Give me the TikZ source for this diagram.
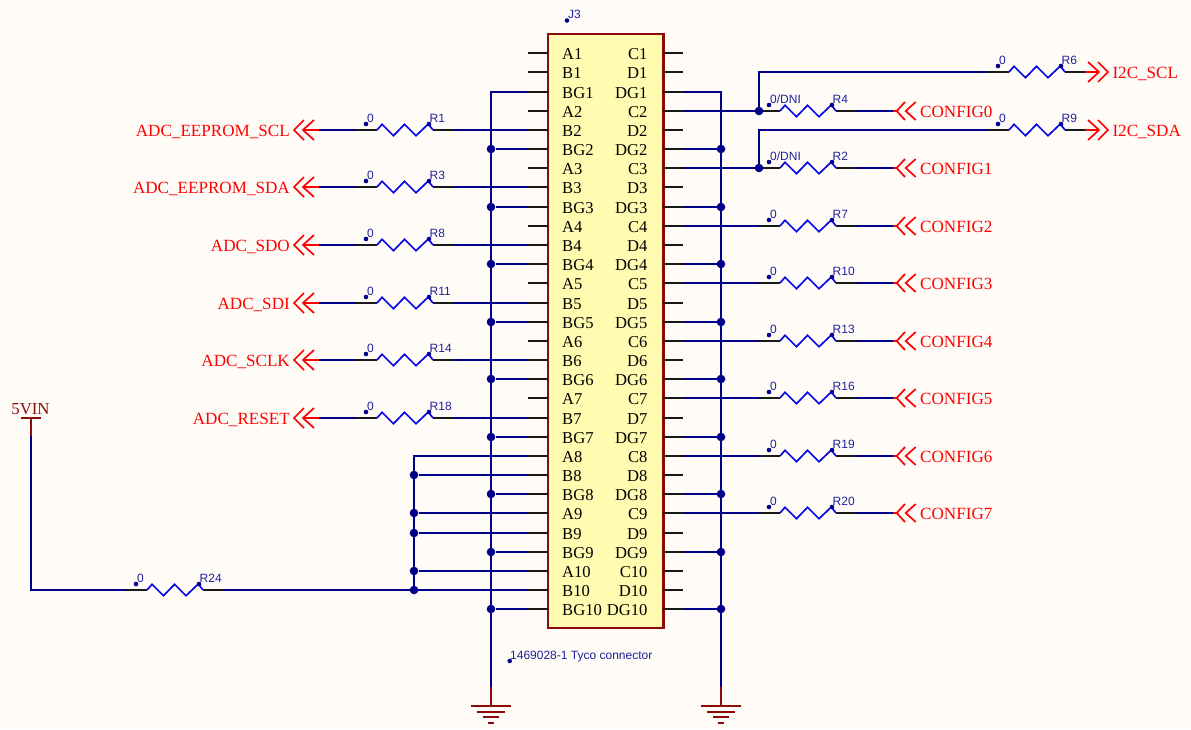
\documentclass[tikz,border=0pt]{standalone}
\usepackage{fontspec}
\setmainfont{Liberation Serif}
\setsansfont{Liberation Sans}
\definecolor{sheet}{HTML}{FFFCF8}
\definecolor{bodyfill}{HTML}{FFFBB0}
\definecolor{darkred}{HTML}{8B0A0A}
\definecolor{wirenavy}{HTML}{00008B}
\definecolor{zigblue}{HTML}{0A0AE6}
\definecolor{textnavy}{HTML}{20209A}
\tikzset{
        wire/.style={draw=wirenavy, line width=2pt},
        pinline/.style={draw=black!90, line width=2pt},
        zigline/.style={draw=zigblue, line width=1.7pt},
        pwrline/.style={draw=darkred, line width=2pt},
        portline/.style={draw=red, line width=1.7pt},
        junction/.style={circle, fill=wirenavy, inner sep=0pt, minimum size=8.6pt},
        pinlabel/.style={inner sep=0pt, yshift=-6.2pt, font=\fontsize{16.6}{17}\selectfont},
        sigleft/.style={inner sep=0pt, text=red, anchor=base east, yshift=-6.2pt, font=\fontsize{17.1}{18}\selectfont},
        sigright/.style={inner sep=0pt, text=red, anchor=base west, yshift=-6.2pt, font=\fontsize{17.1}{18}\selectfont},
        partlabel/.style={inner sep=0pt, text=textnavy, anchor=base west, font=\sffamily\fontsize{12}{13}\selectfont},
        pics/resistor/.style 2 args={code={
                \coordinate (-a) at (0,0);
                \coordinate (-b) at (97,0);
                \draw[pinline] (-a) -- (21,0);
                \draw[pinline] (77,0) -- (-b);
                \draw[zigline] (21,0) -- (26,-5.7) -- (37.5,5.7) -- (48.5,-5.7) -- (60,5.7) -- (72.3,-6) -- (77,0);
                \fill[wirenavy] (10,-6) circle (2.3pt);
                \fill[wirenavy] (73,-6) circle (2.3pt);
                \node[partlabel] (-val) at (11,-8) {#1};
                \node[partlabel] (-ref) at (73.5,-8) {#2};
        }},
        pics/portin/.style={code={
                \draw[portline] (0,0) -- (4,0);
                \draw[portline] (12,-9) -- (3.7,0) -- (12,9);
                \draw[portline] (22.7,-9) -- (12.7,0) -- (22.7,9);
        }},
        pics/portout/.style={code={
                \draw[portline] (0,0) -- (#1,0);
                \draw[portline] (#1-11,-10) -- (#1,0) -- (#1-11,10);
                \draw[portline] (#1-1,-10) -- (#1+9,0) -- (#1-1,10);
        }},
        pics/groundsym/.style={code={
                \draw[pwrline] (0,0) -- (0,19);
                \draw[pwrline] (-20,19) -- (20,19);
                \draw[pwrline] (-14,25) -- (14,25);
                \draw[pwrline] (-8,30) -- (8,30);
                \draw[pwrline] (-3,36) -- (3,36);
        }},
}
\begin{document}
\begin{tikzpicture}[x=1pt, y=-1pt]
        \fill[sheet] (0,0) rectangle (1191,729);
        \useasboundingbox (0,0) rectangle (1191,729);

        \draw[darkred, line width=2.4pt, fill=bodyfill] (548,34) rectangle (663.5,628);

        \foreach \nameL/\nameR [count=\rowno from 0] in {A1/C1,B1/D1,BG1/DG1,A2/C2,B2/D2,BG2/DG2,A3/C3,B3/D3,BG3/DG3,
                A4/C4,B4/D4,BG4/DG4,A5/C5,B5/D5,BG5/DG5,A6/C6,B6/D6,BG6/DG6,A7/C7,B7/D7,BG7/DG7,
                A8/C8,B8/D8,BG8/DG8,A9/C9,B9/D9,BG9/DG9,A10/C10,B10/D10,BG10/DG10}{
                \pgfmathsetmacro{\rowy}{round(53.3+19.17*\rowno)}
                \coordinate (pin\nameL) at (528,\rowy);
                \coordinate (pin\nameR) at (683,\rowy);
                \draw[pinline] (pin\nameL) -- (548,\rowy);
                \draw[pinline] (663,\rowy) -- (pin\nameR);
                \node[pinlabel, anchor=base west] (txt\nameL) at (562,\rowy) {\nameL};
                \node[pinlabel, anchor=base east] (txt\nameR) at (647.7,\rowy) {\nameR};
        }

        \fill[wirenavy] (567,20.5) circle (2.3pt);
        \node[partlabel] (partref) at (568,18) {J3};
        \fill[wirenavy] (509.7,661) circle (2.3pt);
        \node[partlabel] (partname) at (510,659.3) {1469028-1 Tyco connector};

        \coordinate (gndL) at (491,687);
        \coordinate (gndR) at (721,687);
        \draw[wire] (pinBG1) -| (gndL);
        \draw[wire] (pinDG1) -| (gndR);
        \foreach \rowno in {2,...,10}{
                \node[junction] (jBG\rowno) at (pinBG\rowno -| gndL) {};
                \node[junction] (jDG\rowno) at (pinDG\rowno -| gndR) {};
                \draw[wire] (pinBG\rowno) -- (jBG\rowno);
                \draw[wire] (pinDG\rowno) -- (jDG\rowno);
        }
        \pic at (gndL) {groundsym};
        \pic at (gndR) {groundsym};

        \foreach \refname/\pin/\signal in {R1/B2/ADC\_EEPROM\_SCL,R3/B3/ADC\_EEPROM\_SDA,R8/B4/ADC\_SDO,
                R11/B5/ADC\_SDI,R14/B6/ADC\_SCLK,R18/B7/ADC\_RESET}{
                \pic (\refname) at (pin\pin -| 356,0) {resistor={0}{\refname}};
                \coordinate (port\refname) at (pin\pin -| 319,0);
                \draw[wire] (\refname-b) -- (pin\pin);
                \draw[wire] (\refname-a) -- (port\refname);
                \pic[xscale=-1] at (port\refname) {portout=16};
                \node[sigleft] (sig\refname) at (pin\pin -| 290,0) {\signal};
        }

        \foreach \refname/\pin/\val/\signal in {R4/C2/{0/DNI}/CONFIG0,R2/C3/{0/DNI}/CONFIG1,R7/C4/0/CONFIG2,R10/C5/0/CONFIG3,
                R13/C6/0/CONFIG4,R16/C7/0/CONFIG5,R19/C8/0/CONFIG6,R20/C9/0/CONFIG7}{
                \pic (\refname) at (pin\pin -| 759,0) {resistor={\val}{\refname}};
                \coordinate (port\refname) at (pin\pin -| 893,0);
                \draw[wire] (pin\pin) -- (\refname-a);
                \draw[wire] (\refname-b) -- (port\refname);
                \pic at (port\refname) {portin};
                \node[sigright] (sig\refname) at (pin\pin -| 920,0) {\signal};
        }

        \node[junction] (jC2) at (pinC2 -| R4-a) {};
        \node[junction] (jC3) at (pinC3 -| R2-a) {};
        \foreach \refname/\tap/\rowy/\signal in {R6/jC2/72/I2C\_SCL,R9/jC3/130/I2C\_SDA}{
                \pic (\refname) at (988,\rowy) {resistor={0}{\refname}};
                \draw[wire] (\tap) |- (\refname-a);
                \pic at (\refname-b) {portout=14};
                \node[sigright] (sig\refname) at (1112.3,\rowy) {\signal};
        }

        \coordinate (vin) at (31,436);
        \draw[pwrline] (vin) -- (31,418);
        \draw[pwrline] (21,418) -- (41,418);
        \node[inner sep=0pt, text=darkred, anchor=base, font=\fontsize{16.8}{17}\selectfont] (vinlabel) at (30.5,414) {5VIN};
        \pic (R24) at (pinB10 -| 126,0) {resistor={0}{R24}};
        \draw[wire] (vin) |- (R24-a);
        \draw[wire] (R24-b) -- (pinB10);

        \coordinate (busV) at (414,0);
        \foreach \pin in {B8,A9,B9,A10,B10}{
                \node[junction] (j\pin) at (pin\pin -| busV) {};
                \draw[wire] (pin\pin) -- (j\pin);
        }
        \draw[wire] (pinA8) -| (jB10);
\end{tikzpicture}
\end{document}
